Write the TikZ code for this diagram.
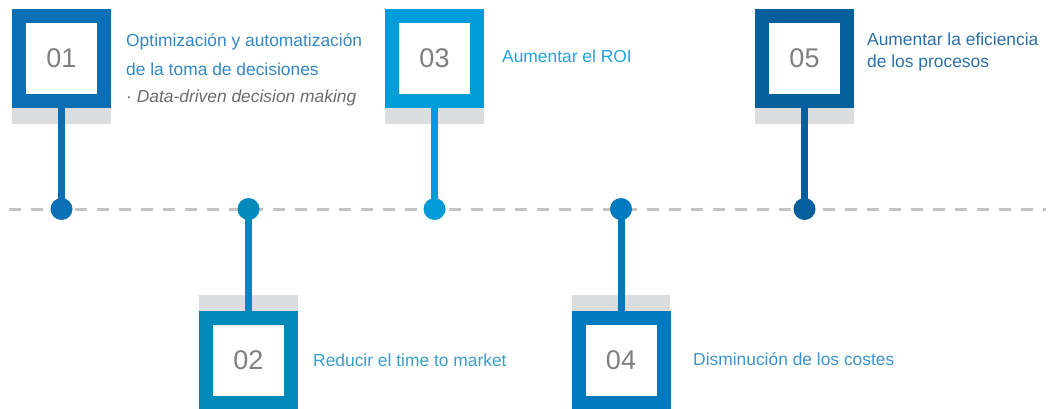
\documentclass[tikz,border=0pt]{standalone}
\usepackage{fontspec}
\setmainfont{Liberation Sans}
\usetikzlibrary{backgrounds}
\definecolor{cA}{HTML}{0B6FB5}
\definecolor{cB}{HTML}{0089B9}
\definecolor{cC}{HTML}{009BD9}
\definecolor{cD}{HTML}{0079BF}
\definecolor{cE}{HTML}{04609C}
\definecolor{tA}{HTML}{3388C8}
\definecolor{tB}{HTML}{3A9FCB}
\definecolor{tC}{HTML}{22A3DC}
\definecolor{tD}{HTML}{3D94D0}
\definecolor{tE}{HTML}{2B6FA8}
\definecolor{band}{HTML}{DCDDDF}
\definecolor{dashc}{HTML}{C3C4C6}
\definecolor{numc}{HTML}{7F7F7F}
\tikzset{
  numbox/.style={draw=#1, line width=14pt, fill=white, minimum width=85pt, minimum height=85pt,
    inner sep=0pt, text=numc, font=\fontsize{27}{27}\selectfont},
  stem/.style={draw=#1, line width=7pt},
  dot/.style={circle, fill=#1, minimum size=22pt, inner sep=0pt},
  label/.style={anchor=base west, align=left, text=#1, font=\fontsize{17.4}{28}\selectfont, inner sep=0pt},
  timeline/.style={draw=dashc, line width=3pt, dash pattern=on 12pt off 10pt},
}
\begin{document}
\begin{tikzpicture}[x=1pt,y=-1pt]
\useasboundingbox (0,0) rectangle (1055,409);
% boxes
\node[numbox=cA] (b1) at (61.5,58.5) {01};
\node[numbox=cB] (b2) at (248.5,360.5) {02};
\node[numbox=cC] (b3) at (434.5,58.5) {03};
\node[numbox=cD] (b4) at (621,360.5) {04};
\node[numbox=cE] (b5) at (804.5,58.5) {05};
% dots
\coordinate (L) at (9,209);
\coordinate (R) at (1046,209);
\node[dot=cA] (d1) at (61.5,209) {};
\node[dot=cB] (d2) at (248.5,209) {};
\node[dot=cC] (d3) at (434.5,209) {};
\node[dot=cD] (d4) at (621,209) {};
\node[dot=cE] (d5) at (804.5,209) {};
\begin{scope}[on background layer]
  \fill[band] (12,108) rectangle (111,124);
  \fill[band] (385,108) rectangle (484,124);
  \fill[band] (755,108) rectangle (854,124);
  \fill[band] (199,295) rectangle (298,311);
  \fill[band] (572,295) rectangle (670,311);
  \draw[timeline] (L) -- (R);
  \draw[stem=cA] (b1.south) -- (d1.center);
  \draw[stem=cB] (d2.center) -- (b2.north);
  \draw[stem=cC] (b3.south) -- (d3.center);
  \draw[stem=cD] (d4.center) -- (b4.north);
  \draw[stem=cE] (b5.south) -- (d5.center);
\end{scope}
% labels (base anchor = baseline of the last line)
\node[label=tA] (t1) at (126,103) {Optimización y automatización\\de la toma de decisiones\\{\color{numc!85!black}· \itshape Data-driven decision making}};
\node[label=tB] (t2) at (313,366) {Reducir el time to market};
\node[label=tC] (t3) at (502,63) {Aumentar el ROI};
\node[label=tD] (t4) at (693,365) {Disminución de los costes};
\node[label=tE, font=\fontsize{17.4}{21.5}\selectfont] (t5) at (867,67.5) {Aumentar la eficiencia\\de los procesos};
\end{tikzpicture}
\end{document}
